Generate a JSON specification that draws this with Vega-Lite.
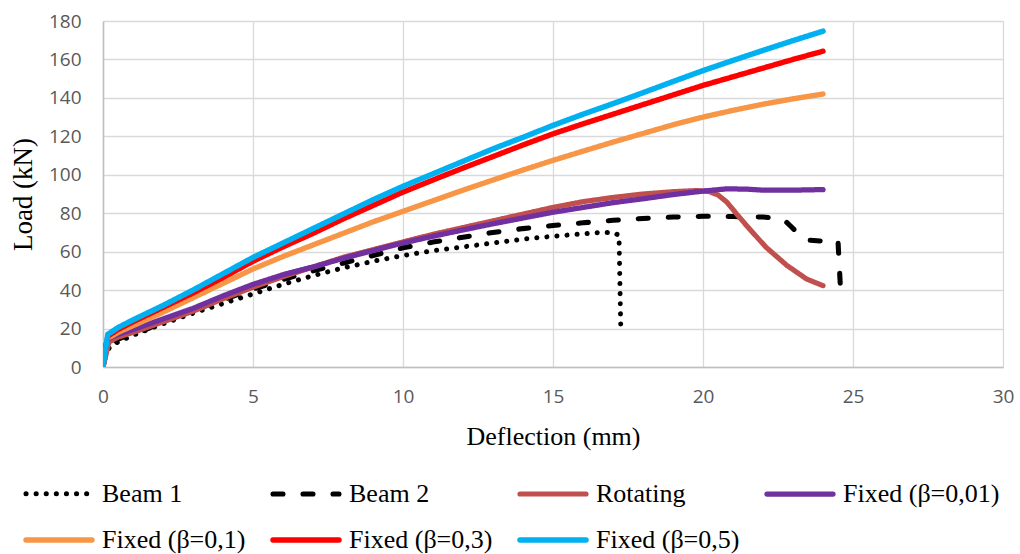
{
  "$schema": "https://vega.github.io/schema/vega-lite/v6.json",
  "width": 900,
  "height": 346,
  "autosize": {"type": "none"},
  "padding": {"left": 103, "top": 21, "right": 17, "bottom": 187},
  "background": "white",
  "config": {"view": {"stroke": null}},
  "datasets": {
    "raw": [
      {"series":"Beam 1","x":0,"y":0},{"series":"Beam 1","x":0.1,"y":8},{"series":"Beam 1","x":0.27,"y":11},{"series":"Beam 1","x":0.5,"y":13},{"series":"Beam 1","x":1,"y":16.5},{"series":"Beam 1","x":1.5,"y":19.5},{"series":"Beam 1","x":2,"y":22.5},{"series":"Beam 1","x":3,"y":28},{"series":"Beam 1","x":4,"y":33},{"series":"Beam 1","x":5,"y":38},{"series":"Beam 1","x":6,"y":43},{"series":"Beam 1","x":7,"y":47.5},{"series":"Beam 1","x":8,"y":51.5},{"series":"Beam 1","x":9,"y":55},{"series":"Beam 1","x":10,"y":58},{"series":"Beam 1","x":11,"y":60.5},{"series":"Beam 1","x":12,"y":62.5},{"series":"Beam 1","x":13,"y":64.5},{"series":"Beam 1","x":14,"y":66.5},{"series":"Beam 1","x":15,"y":68},{"series":"Beam 1","x":16,"y":69.3},{"series":"Beam 1","x":16.6,"y":70},{"series":"Beam 1","x":17.0,"y":70},{"series":"Beam 1","x":17.2,"y":68.5},{"series":"Beam 1","x":17.26,"y":19},
      {"series":"Beam 2","x":0,"y":0},{"series":"Beam 2","x":0.1,"y":7},{"series":"Beam 2","x":0.27,"y":12},{"series":"Beam 2","x":0.5,"y":14.5},{"series":"Beam 2","x":1,"y":17.5},{"series":"Beam 2","x":1.5,"y":20},{"series":"Beam 2","x":2,"y":23.5},{"series":"Beam 2","x":3,"y":29.5},{"series":"Beam 2","x":4,"y":35},{"series":"Beam 2","x":5,"y":40.5},{"series":"Beam 2","x":6,"y":45.5},{"series":"Beam 2","x":7,"y":50},{"series":"Beam 2","x":8,"y":54},{"series":"Beam 2","x":9,"y":58},{"series":"Beam 2","x":10,"y":62},{"series":"Beam 2","x":11,"y":65},{"series":"Beam 2","x":12,"y":67.5},{"series":"Beam 2","x":13,"y":70},{"series":"Beam 2","x":14,"y":72},{"series":"Beam 2","x":15,"y":73.6},{"series":"Beam 2","x":16,"y":75},{"series":"Beam 2","x":17,"y":76.3},{"series":"Beam 2","x":18,"y":77.3},{"series":"Beam 2","x":19,"y":78},{"series":"Beam 2","x":20,"y":78.4},{"series":"Beam 2","x":21,"y":78.3},{"series":"Beam 2","x":22,"y":78},{"series":"Beam 2","x":22.67,"y":77},{"series":"Beam 2","x":22.9,"y":73.6},{"series":"Beam 2","x":23.2,"y":69},{"series":"Beam 2","x":23.5,"y":66},{"series":"Beam 2","x":24,"y":65.5},{"series":"Beam 2","x":24.5,"y":65.5},{"series":"Beam 2","x":24.6,"y":35.6},
      {"series":"Rotating","x":0,"y":0},{"series":"Rotating","x":0.2,"y":13},{"series":"Rotating","x":0.5,"y":15.5},{"series":"Rotating","x":1,"y":18},{"series":"Rotating","x":2,"y":23.5},{"series":"Rotating","x":3,"y":29},{"series":"Rotating","x":4,"y":35.5},{"series":"Rotating","x":5,"y":41.5},{"series":"Rotating","x":6,"y":47},{"series":"Rotating","x":7,"y":52},{"series":"Rotating","x":8,"y":57},{"series":"Rotating","x":9,"y":61},{"series":"Rotating","x":10,"y":65},{"series":"Rotating","x":11,"y":69},{"series":"Rotating","x":12,"y":72.5},{"series":"Rotating","x":13,"y":76},{"series":"Rotating","x":14,"y":79.5},{"series":"Rotating","x":15,"y":83},{"series":"Rotating","x":16,"y":86},{"series":"Rotating","x":17,"y":88.2},{"series":"Rotating","x":18,"y":90},{"series":"Rotating","x":19,"y":91.2},{"series":"Rotating","x":19.8,"y":91.8},{"series":"Rotating","x":20.2,"y":91.3},{"series":"Rotating","x":20.5,"y":89.5},{"series":"Rotating","x":20.8,"y":85.7},{"series":"Rotating","x":21.1,"y":80},{"series":"Rotating","x":21.45,"y":73.6},{"series":"Rotating","x":22.1,"y":62.3},{"series":"Rotating","x":22.8,"y":52.8},{"series":"Rotating","x":23.45,"y":45.8},{"series":"Rotating","x":24,"y":42.3},
      {"series":"Fixed (β=0,01)","x":0,"y":0},{"series":"Fixed (β=0,01)","x":0.1,"y":12},{"series":"Fixed (β=0,01)","x":0.2,"y":15},{"series":"Fixed (β=0,01)","x":0.5,"y":17},{"series":"Fixed (β=0,01)","x":1,"y":19.5},{"series":"Fixed (β=0,01)","x":2,"y":25},{"series":"Fixed (β=0,01)","x":3,"y":30.5},{"series":"Fixed (β=0,01)","x":4,"y":37},{"series":"Fixed (β=0,01)","x":5,"y":43},{"series":"Fixed (β=0,01)","x":6,"y":48},{"series":"Fixed (β=0,01)","x":7,"y":52},{"series":"Fixed (β=0,01)","x":8,"y":56.5},{"series":"Fixed (β=0,01)","x":9,"y":60.5},{"series":"Fixed (β=0,01)","x":10,"y":64.5},{"series":"Fixed (β=0,01)","x":11,"y":68},{"series":"Fixed (β=0,01)","x":12,"y":71.3},{"series":"Fixed (β=0,01)","x":13,"y":74.5},{"series":"Fixed (β=0,01)","x":14,"y":77.5},{"series":"Fixed (β=0,01)","x":15,"y":80.5},{"series":"Fixed (β=0,01)","x":16,"y":83},{"series":"Fixed (β=0,01)","x":17,"y":85.5},{"series":"Fixed (β=0,01)","x":18,"y":87.5},{"series":"Fixed (β=0,01)","x":19,"y":89.7},{"series":"Fixed (β=0,01)","x":20,"y":91.5},{"series":"Fixed (β=0,01)","x":20.8,"y":92.7},{"series":"Fixed (β=0,01)","x":21.5,"y":92.5},{"series":"Fixed (β=0,01)","x":22,"y":92},{"series":"Fixed (β=0,01)","x":23,"y":92},{"series":"Fixed (β=0,01)","x":24,"y":92.3},
      {"series":"Fixed (β=0,1)","x":0,"y":0},{"series":"Fixed (β=0,1)","x":0.16,"y":15},{"series":"Fixed (β=0,1)","x":0.5,"y":18},{"series":"Fixed (β=0,1)","x":1,"y":21.5},{"series":"Fixed (β=0,1)","x":2,"y":28.5},{"series":"Fixed (β=0,1)","x":3,"y":36},{"series":"Fixed (β=0,1)","x":4,"y":43.5},{"series":"Fixed (β=0,1)","x":5,"y":51},{"series":"Fixed (β=0,1)","x":6,"y":57.5},{"series":"Fixed (β=0,1)","x":7,"y":63.5},{"series":"Fixed (β=0,1)","x":8,"y":69.5},{"series":"Fixed (β=0,1)","x":9,"y":75.5},{"series":"Fixed (β=0,1)","x":10,"y":81},{"series":"Fixed (β=0,1)","x":11,"y":86.5},{"series":"Fixed (β=0,1)","x":12,"y":92},{"series":"Fixed (β=0,1)","x":13,"y":97.3},{"series":"Fixed (β=0,1)","x":14,"y":102.5},{"series":"Fixed (β=0,1)","x":15,"y":107.5},{"series":"Fixed (β=0,1)","x":16,"y":112.3},{"series":"Fixed (β=0,1)","x":17,"y":117},{"series":"Fixed (β=0,1)","x":18,"y":121.5},{"series":"Fixed (β=0,1)","x":19,"y":126},{"series":"Fixed (β=0,1)","x":20,"y":130},{"series":"Fixed (β=0,1)","x":21,"y":133.5},{"series":"Fixed (β=0,1)","x":22,"y":136.7},{"series":"Fixed (β=0,1)","x":23,"y":139.5},{"series":"Fixed (β=0,1)","x":24,"y":142},
      {"series":"Fixed (β=0,3)","x":0,"y":0},{"series":"Fixed (β=0,3)","x":0.16,"y":16},{"series":"Fixed (β=0,3)","x":0.5,"y":19.5},{"series":"Fixed (β=0,3)","x":1,"y":23.5},{"series":"Fixed (β=0,3)","x":2,"y":31},{"series":"Fixed (β=0,3)","x":3,"y":38.5},{"series":"Fixed (β=0,3)","x":4,"y":46.5},{"series":"Fixed (β=0,3)","x":5,"y":55},{"series":"Fixed (β=0,3)","x":6,"y":62.5},{"series":"Fixed (β=0,3)","x":7,"y":69.5},{"series":"Fixed (β=0,3)","x":8,"y":77},{"series":"Fixed (β=0,3)","x":9,"y":84},{"series":"Fixed (β=0,3)","x":10,"y":91},{"series":"Fixed (β=0,3)","x":11,"y":97.3},{"series":"Fixed (β=0,3)","x":12,"y":103.5},{"series":"Fixed (β=0,3)","x":13,"y":109.5},{"series":"Fixed (β=0,3)","x":14,"y":115.5},{"series":"Fixed (β=0,3)","x":15,"y":121.3},{"series":"Fixed (β=0,3)","x":16,"y":126.5},{"series":"Fixed (β=0,3)","x":17,"y":131.5},{"series":"Fixed (β=0,3)","x":18,"y":136.5},{"series":"Fixed (β=0,3)","x":19,"y":141.5},{"series":"Fixed (β=0,3)","x":20,"y":146.5},{"series":"Fixed (β=0,3)","x":21,"y":151},{"series":"Fixed (β=0,3)","x":22,"y":155.5},{"series":"Fixed (β=0,3)","x":23,"y":160},{"series":"Fixed (β=0,3)","x":24,"y":164.3},
      {"series":"Fixed (β=0,5)","x":0,"y":0},{"series":"Fixed (β=0,5)","x":0.16,"y":17},{"series":"Fixed (β=0,5)","x":0.5,"y":20.5},{"series":"Fixed (β=0,5)","x":1,"y":24.5},{"series":"Fixed (β=0,5)","x":2,"y":32},{"series":"Fixed (β=0,5)","x":3,"y":40},{"series":"Fixed (β=0,5)","x":4,"y":48.5},{"series":"Fixed (β=0,5)","x":5,"y":57},{"series":"Fixed (β=0,5)","x":6,"y":64.5},{"series":"Fixed (β=0,5)","x":7,"y":72},{"series":"Fixed (β=0,5)","x":8,"y":79.5},{"series":"Fixed (β=0,5)","x":9,"y":87},{"series":"Fixed (β=0,5)","x":10,"y":94},{"series":"Fixed (β=0,5)","x":11,"y":100.5},{"series":"Fixed (β=0,5)","x":12,"y":107},{"series":"Fixed (β=0,5)","x":13,"y":113.5},{"series":"Fixed (β=0,5)","x":14,"y":119.5},{"series":"Fixed (β=0,5)","x":15,"y":125.7},{"series":"Fixed (β=0,5)","x":16,"y":131.5},{"series":"Fixed (β=0,5)","x":17,"y":137},{"series":"Fixed (β=0,5)","x":18,"y":142.7},{"series":"Fixed (β=0,5)","x":19,"y":148.5},{"series":"Fixed (β=0,5)","x":20,"y":154.2},{"series":"Fixed (β=0,5)","x":21,"y":159.5},{"series":"Fixed (β=0,5)","x":22,"y":164.7},{"series":"Fixed (β=0,5)","x":23,"y":169.8},{"series":"Fixed (β=0,5)","x":24,"y":174.7}
    ]
  },
  "data": {"name": "raw"},
  "mark": {"type": "line", "strokeCap": "round", "strokeJoin": "round", "clip": true},
  "encoding": {
    "x": {
      "field": "x", "type": "quantitative",
      "scale": {"domain": [0, 30], "nice": false, "zero": false},
      "axis": {
        "title": "Deflection (mm)", "values": [0,5,10,15,20,25,30],
        "titleFont": "Liberation Serif", "titleFontSize": 26, "titleFontWeight": "normal", "titleColor": "#000000", "titlePadding": 17,
        "labelFont": "Open Sans", "labelFontSize": 19, "labelColor": "#595959", "labelPadding": 20, "labelFlush": false,
        "ticks": false, "tickSize": 0,
        "domainColor": "#bfbfbf", "domainWidth": 1.5,
        "gridColor": "#d9d9d9", "gridWidth": 1.3
      }
    },
    "y": {
      "field": "y", "type": "quantitative",
      "scale": {"domain": [0, 180], "nice": false},
      "axis": {
        "title": "Load (kN)", "values": [0,20,40,60,80,100,120,140,160,180],
        "titleFont": "Liberation Serif", "titleFontSize": 27, "titleFontWeight": "normal", "titleColor": "#000000", "titlePadding": 11,
        "labelFont": "Open Sans", "labelFontSize": 19, "labelColor": "#595959", "labelPadding": 22, "labelFlush": false,
        "ticks": false, "tickSize": 0,
        "domainColor": "#bfbfbf", "domainWidth": 1.5,
        "gridColor": "#d9d9d9", "gridWidth": 1.3
      }
    },
    "color": {
      "field": "series", "type": "nominal",
      "scale": {
        "domain": ["Beam 1","Beam 2","Rotating","Fixed (β=0,01)","Fixed (β=0,1)","Fixed (β=0,3)","Fixed (β=0,5)"],
        "range": ["#000000","#000000","#c0504d","#7030a0","#f79646","#ff0000","#00b0f0"]
      },
      "legend": {
        "title": null, "orient": "none", "legendX": -69, "legendY": 448,
        "direction": "horizontal", "columns": 4, "columnPadding": 16, "rowPadding": 8,
        "symbolType": "M-1.5,0H1.5", "symbolSize": 1936, "symbolFillColor": "transparent",
        "labelFont": "Liberation Serif", "labelFontSize": 26, "labelColor": "#000000", "labelOffset": 18, "labelLimit": 400,
        "padding": 0,
        "encode": {"symbols": {"update": {"strokeCap": {"value": "round"}}}}
      }
    },
    "strokeDash": {
      "field": "series", "type": "nominal",
      "scale": {
        "domain": ["Beam 1","Beam 2","Rotating","Fixed (β=0,01)","Fixed (β=0,1)","Fixed (β=0,3)","Fixed (β=0,5)"],
        "range": [[0.1,10],[10,20],[1,0],[1,0],[1,0],[1,0],[1,0]]
      }
    },
    "strokeWidth": {
      "field": "series", "type": "nominal",
      "scale": {
        "domain": ["Beam 1","Beam 2","Rotating","Fixed (β=0,01)","Fixed (β=0,1)","Fixed (β=0,3)","Fixed (β=0,5)"],
        "range": [5, 5.5, 3.5, 3.5, 3, 3.5, 5.5]
      }
    }
  }
}
